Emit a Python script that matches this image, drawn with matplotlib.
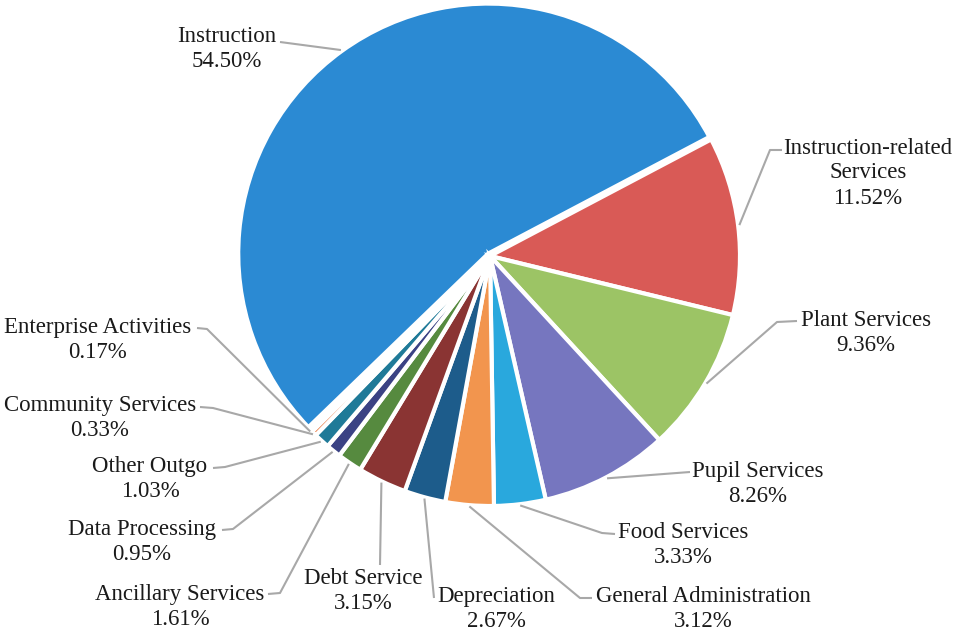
import numpy as np
import matplotlib.pyplot as plt

# Expenditure shares by function (percent)
categories = ["Instruction", "Instruction-related\nServices", "Plant Services",
              "Pupil Services", "Food Services", "General Administration",
              "Depreciation", "Debt Service", "Ancillary Services",
              "Data Processing", "Other Outgo", "Community Services",
              "Enterprise Activities"]
shares = [54.50, 11.52, 9.36, 8.26, 3.33, 3.12, 2.67, 3.15, 1.61, 0.95, 1.03, 0.33, 0.17]
colors = ["#2b8ad3", "#d95a56", "#9cc465", "#7676bf", "#29a8dd", "#f2954e",
          "#1d5c8b", "#8a3433", "#568a3f", "#3b4284", "#1f7a98", "#e8743b", "#7a7ac0"]

# label block centres and leader stubs, in pixels from the top-left corner
label_pos = [(227, 49), (868, 173), (866, 333), (758, 484), (683, 545), (703, 609),
             (496, 609), (363, 591), (180, 607), (142, 542), (150, 479), (100, 418),
             (98, 340)]
stubs = [[(280, 42)],
         [(782, 150), (770, 150)],
         [(797, 321), (777, 322)],
         [(690, 472)],
         [(615, 534), (602, 533)],
         [(592, 598), (580, 598)],
         [(434, 598)],
         [(380, 565)],
         [(268, 594), (280, 593)],
         [(222, 530), (233, 529)],
         [(213, 468), (225, 467)],
         [(200, 407), (213, 408)],
         [(197, 328), (207, 329)]]

W, H = 958, 635
CX, CY, R = 490, 256, 250


def px(x, y):
    return (x - CX) / R, (CY - y) / R


fig = plt.figure(figsize=(W / 100, H / 100), dpi=100)
ax = fig.add_axes([0, 0, 1, 1])

explode = [0.012] + [0] * (len(shares) - 1)
wedges, _ = ax.pie(shares, colors=colors, startangle=224.0, counterclock=False,
                   explode=explode, radius=1.0,
                   wedgeprops=dict(edgecolor="white", linewidth=3))

# pie() resets the limits, so map pixels to data afterwards
ax.set_xlim(-CX / R, (W - CX) / R)
ax.set_ylim((CY - H) / R, CY / R)
ax.set_aspect("equal")
ax.axis("off")

for w, name, val, pos, stub in zip(wedges, categories, shares, label_pos, stubs):
    mid = np.deg2rad((w.theta1 + w.theta2) / 2)
    cx, cy = w.center
    ex, ey = cx + 1.005 * np.cos(mid), cy + 1.005 * np.sin(mid)
    pts = [px(*p) for p in stub] + [(ex, ey)]
    ax.plot([p[0] for p in pts], [p[1] for p in pts], color="#a8a8a8", lw=1.5,
            solid_capstyle="butt", zorder=1)
    tx, ty = px(*pos)
    ax.text(tx, ty, f"{name}\n{val:.2f}%", ha="center", va="center",
            multialignment="center", fontsize=16.5, family="Liberation Serif",
            color="#1a1a1a", linespacing=1.25)

fig.savefig("out.png", dpi=100, facecolor="white")
